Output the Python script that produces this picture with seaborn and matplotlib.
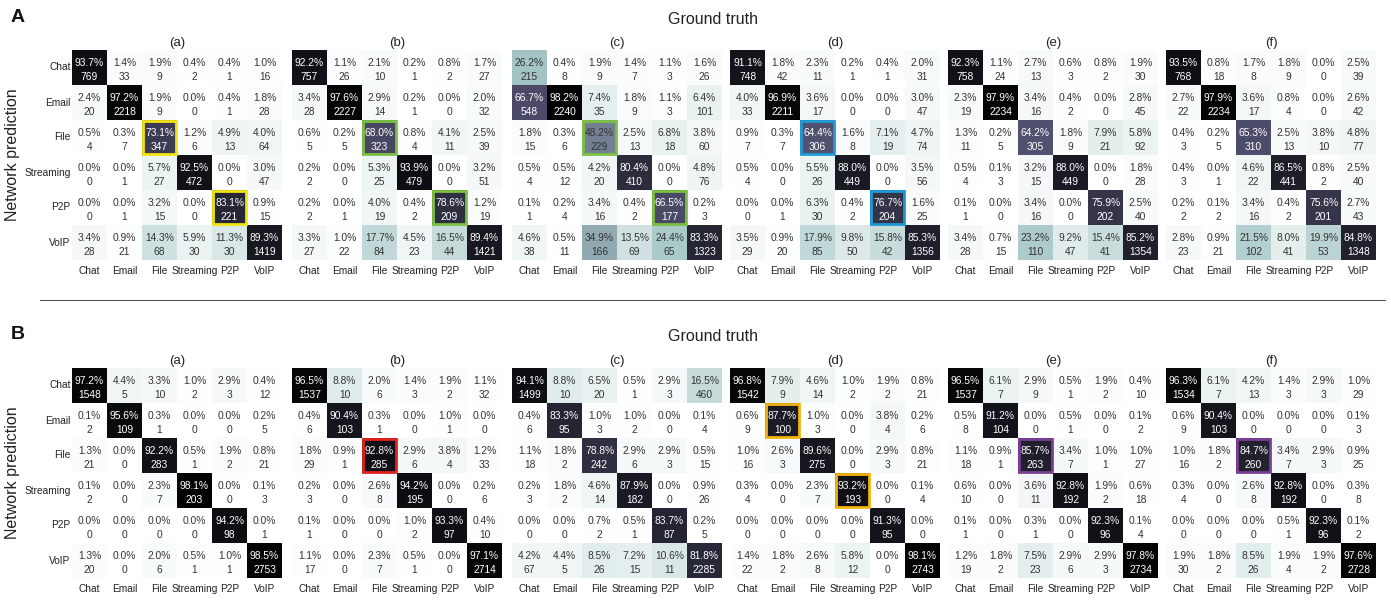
import numpy as np
import matplotlib
matplotlib.use("Agg")
import matplotlib.pyplot as plt
from matplotlib.patches import Rectangle
from matplotlib.lines import Line2D
import seaborn as sns

sns.set_style("white")
plt.rcParams["font.family"] = ["Liberation Sans", "DejaVu Sans"]

classes = ["Chat", "Email", "File", "Streaming", "P2P", "VoIP"]
panel_tags = ["(a)", "(b)", "(c)", "(d)", "(e)", "(f)"]

# ---- Section A: column-normalised percentages and raw counts (rows = prediction, cols = truth)
A_a_pct = [[93.7, 1.4, 1.9, 0.4, 0.4, 1.0],
           [2.4, 97.2, 1.9, 0.0, 0.4, 1.8],
           [0.5, 0.3, 73.1, 1.2, 4.9, 4.0],
           [0.0, 0.0, 5.7, 92.5, 0.0, 3.0],
           [0.0, 0.0, 3.2, 0.0, 83.1, 0.9],
           [3.4, 0.9, 14.3, 5.9, 11.3, 89.3]]
A_a_cnt = [[769, 33, 9, 2, 1, 16],
           [20, 2218, 9, 0, 1, 28],
           [4, 7, 347, 6, 13, 64],
           [0, 1, 27, 472, 0, 47],
           [0, 1, 15, 0, 221, 15],
           [28, 21, 68, 30, 30, 1419]]

A_b_pct = [[92.2, 1.1, 2.1, 0.2, 0.8, 1.7],
           [3.4, 97.6, 2.9, 0.2, 0.0, 2.0],
           [0.6, 0.2, 68.0, 0.8, 4.1, 2.5],
           [0.2, 0.0, 5.3, 93.9, 0.0, 3.2],
           [0.2, 0.0, 4.0, 0.4, 78.6, 1.2],
           [3.3, 1.0, 17.7, 4.5, 16.5, 89.4]]
A_b_cnt = [[757, 26, 10, 1, 2, 27],
           [28, 2227, 14, 1, 0, 32],
           [5, 5, 323, 4, 11, 39],
           [2, 0, 25, 479, 0, 51],
           [2, 1, 19, 2, 209, 19],
           [27, 22, 84, 23, 44, 1421]]

A_c_pct = [[26.2, 0.4, 1.9, 1.4, 1.1, 1.6],
           [66.7, 98.2, 7.4, 1.8, 1.1, 6.4],
           [1.8, 0.3, 48.2, 2.5, 6.8, 3.8],
           [0.5, 0.5, 4.2, 80.4, 0.0, 4.8],
           [0.1, 0.2, 3.4, 0.4, 66.5, 0.2],
           [4.6, 0.5, 34.9, 13.5, 24.4, 83.3]]
A_c_cnt = [[215, 8, 9, 7, 3, 26],
           [548, 2240, 35, 9, 3, 101],
           [15, 6, 229, 13, 18, 60],
           [4, 12, 20, 410, 0, 76],
           [1, 4, 16, 2, 177, 3],
           [38, 11, 166, 69, 65, 1323]]

A_d_pct = [[91.1, 1.8, 2.3, 0.2, 0.4, 2.0],
           [4.0, 96.9, 3.6, 0.0, 0.0, 3.0],
           [0.9, 0.3, 64.4, 1.6, 7.1, 4.7],
           [0.5, 0.0, 5.5, 88.0, 0.0, 3.5],
           [0.0, 0.0, 6.3, 0.4, 76.7, 1.6],
           [3.5, 0.9, 17.9, 9.8, 15.8, 85.3]]
A_d_cnt = [[748, 42, 11, 1, 1, 31],
           [33, 2211, 17, 0, 0, 47],
           [7, 7, 306, 8, 19, 74],
           [4, 0, 26, 449, 0, 56],
           [0, 1, 30, 2, 204, 25],
           [29, 20, 85, 50, 42, 1356]]

A_e_pct = [[92.3, 1.1, 2.7, 0.6, 0.8, 1.9],
           [2.3, 97.9, 3.4, 0.4, 0.0, 2.8],
           [1.3, 0.2, 64.2, 1.8, 7.9, 5.8],
           [0.5, 0.1, 3.2, 88.0, 0.0, 1.8],
           [0.1, 0.0, 3.4, 0.0, 75.9, 2.5],
           [3.4, 0.7, 23.2, 9.2, 15.4, 85.2]]
A_e_cnt = [[758, 24, 13, 3, 2, 30],
           [19, 2234, 16, 2, 0, 45],
           [11, 5, 305, 9, 21, 92],
           [4, 3, 15, 449, 0, 28],
           [1, 0, 16, 0, 202, 40],
           [28, 15, 110, 47, 41, 1354]]

A_f_pct = [[93.5, 0.8, 1.7, 1.8, 0.0, 2.5],
           [2.7, 97.9, 3.6, 0.8, 0.0, 2.6],
           [0.4, 0.2, 65.3, 2.5, 3.8, 4.8],
           [0.4, 0.0, 4.6, 86.5, 0.8, 2.5],
           [0.2, 0.1, 3.4, 0.4, 75.6, 2.7],
           [2.8, 0.9, 21.5, 8.0, 19.9, 84.8]]
A_f_cnt = [[768, 18, 8, 9, 0, 39],
           [22, 2234, 17, 4, 0, 42],
           [3, 5, 310, 13, 10, 77],
           [3, 1, 22, 441, 2, 40],
           [2, 2, 16, 2, 201, 43],
           [23, 21, 102, 41, 53, 1348]]

# ---- Section B
B_a_pct = [[97.2, 4.4, 3.3, 1.0, 2.9, 0.4],
           [0.1, 95.6, 0.3, 0.0, 0.0, 0.2],
           [1.3, 0.0, 92.2, 0.5, 1.9, 0.8],
           [0.1, 0.0, 2.3, 98.1, 0.0, 0.1],
           [0.0, 0.0, 0.0, 0.0, 94.2, 0.0],
           [1.3, 0.0, 2.0, 0.5, 1.0, 98.5]]
B_a_cnt = [[1548, 5, 10, 2, 3, 12],
           [2, 109, 1, 0, 0, 5],
           [21, 0, 283, 1, 2, 21],
           [2, 0, 7, 203, 0, 3],
           [0, 0, 0, 0, 98, 1],
           [20, 0, 6, 1, 1, 2753]]

B_b_pct = [[96.5, 8.8, 2.0, 1.4, 1.9, 1.1],
           [0.4, 90.4, 0.3, 0.0, 1.0, 0.0],
           [1.8, 0.9, 92.8, 2.9, 3.8, 1.2],
           [0.2, 0.0, 2.6, 94.2, 0.0, 0.2],
           [0.1, 0.0, 0.0, 1.0, 93.3, 0.4],
           [1.1, 0.0, 2.3, 0.5, 0.0, 97.1]]
B_b_cnt = [[1537, 10, 6, 3, 2, 32],
           [6, 103, 1, 0, 1, 0],
           [29, 1, 285, 6, 4, 33],
           [3, 0, 8, 195, 0, 6],
           [1, 0, 0, 2, 97, 10],
           [17, 0, 7, 1, 0, 2714]]

B_c_pct = [[94.1, 8.8, 6.5, 0.5, 2.9, 16.5],
           [0.4, 83.3, 1.0, 1.0, 0.0, 0.1],
           [1.1, 1.8, 78.8, 2.9, 2.9, 0.5],
           [0.2, 1.8, 4.6, 87.9, 0.0, 0.9],
           [0.0, 0.0, 0.7, 0.5, 83.7, 0.2],
           [4.2, 4.4, 8.5, 7.2, 10.6, 81.8]]
B_c_cnt = [[1499, 10, 20, 1, 3, 460],
           [6, 95, 3, 2, 0, 4],
           [18, 2, 242, 6, 3, 15],
           [3, 2, 14, 182, 0, 26],
           [0, 0, 2, 1, 87, 5],
           [67, 5, 26, 15, 11, 2285]]

B_d_pct = [[96.8, 7.9, 4.6, 1.0, 1.9, 0.8],
           [0.6, 87.7, 1.0, 0.0, 3.8, 0.2],
           [1.0, 2.6, 89.6, 0.0, 2.9, 0.8],
           [0.3, 0.0, 2.3, 93.2, 0.0, 0.1],
           [0.0, 0.0, 0.0, 0.0, 91.3, 0.0],
           [1.4, 1.8, 2.6, 5.8, 0.0, 98.1]]
B_d_cnt = [[1542, 9, 14, 2, 2, 21],
           [9, 100, 3, 0, 4, 6],
           [16, 3, 275, 0, 3, 21],
           [4, 0, 7, 193, 0, 4],
           [0, 0, 0, 0, 95, 0],
           [22, 2, 8, 12, 0, 2743]]

B_e_pct = [[96.5, 6.1, 2.9, 0.5, 1.9, 0.4],
           [0.5, 91.2, 0.0, 0.5, 0.0, 0.1],
           [1.1, 0.9, 85.7, 3.4, 1.0, 1.0],
           [0.6, 0.0, 3.6, 92.8, 1.9, 0.6],
           [0.1, 0.0, 0.3, 0.0, 92.3, 0.1],
           [1.2, 1.8, 7.5, 2.9, 2.9, 97.8]]
B_e_cnt = [[1537, 7, 9, 1, 2, 10],
           [8, 104, 0, 1, 0, 2],
           [18, 1, 263, 7, 1, 27],
           [10, 0, 11, 192, 2, 18],
           [1, 0, 1, 0, 96, 4],
           [19, 2, 23, 6, 3, 2734]]

B_f_pct = [[96.3, 6.1, 4.2, 1.4, 2.9, 1.0],
           [0.6, 90.4, 0.0, 0.0, 0.0, 0.1],
           [1.0, 1.8, 84.7, 3.4, 2.9, 0.9],
           [0.3, 0.0, 2.6, 92.8, 0.0, 0.3],
           [0.0, 0.0, 0.0, 0.5, 92.3, 0.1],
           [1.9, 1.8, 8.5, 1.9, 1.9, 97.6]]
B_f_cnt = [[1534, 7, 13, 3, 3, 29],
           [9, 103, 0, 0, 0, 3],
           [16, 2, 260, 7, 3, 25],
           [4, 0, 8, 192, 0, 8],
           [0, 0, 0, 1, 96, 2],
           [30, 2, 26, 4, 2, 2728]]

# Highlighted diagonal cells: (section, panel index) -> (colour, class names)
highlights = {
    ("A", 0): ("#f2e411", ["File", "P2P"]),
    ("A", 1): ("#7dc143", ["File", "P2P"]),
    ("A", 2): ("#7dc143", ["File", "P2P"]),
    ("A", 3): ("#1d9bd7", ["File", "P2P"]),
    ("B", 1): ("#e3211f", ["File"]),
    ("B", 3): ("#f5b30f", ["Email", "Streaming"]),
    ("B", 4): ("#7b3f95", ["File"]),
    ("B", 5): ("#7b3f95", ["File"]),
}

sections = {
    "A": [(A_a_pct, A_a_cnt), (A_b_pct, A_b_cnt), (A_c_pct, A_c_cnt),
          (A_d_pct, A_d_cnt), (A_e_pct, A_e_cnt), (A_f_pct, A_f_cnt)],
    "B": [(B_a_pct, B_a_cnt), (B_b_pct, B_b_cnt), (B_c_pct, B_c_cnt),
          (B_d_pct, B_d_cnt), (B_e_pct, B_e_cnt), (B_f_pct, B_f_cnt)],
}

W, H = 1391, 601
fig = plt.figure(figsize=(W / 100, H / 100), dpi=100)

lefts = [72, 292, 512, 730, 948, 1166]
tops = {"A": 50, "B": 368}
size = 210


def frac_box(x, y, w, h):
    return [x / W, 1 - (y + h) / H, w / W, h / H]


for sec, panels in sections.items():
    top = tops[sec]
    for k, (pct, cnt) in enumerate(panels):
        ax = fig.add_axes(frac_box(lefts[k], top, size, size))
        pct_arr = np.array(pct, dtype=float)
        cnt_arr = np.array(cnt)
        sns.heatmap(pct_arr, ax=ax, cmap="bone_r", vmin=0, vmax=100,
                    cbar=False, square=False,
                    xticklabels=classes,
                    yticklabels=classes if k == 0 else False)
        for i in range(6):
            for j in range(6):
                v = pct_arr[i, j]
                col = "white" if v > 55 else "#333333"
                ax.text(j + 0.5, i + 0.36, f"{v:.1f}%", ha="center", va="center",
                        fontsize=7.4, color=col)
                ax.text(j + 0.5, i + 0.76, f"{cnt_arr[i, j]}", ha="center", va="center",
                        fontsize=7.4, color=col)
        ax.tick_params(axis="both", length=0, labelsize=7.3, colors="#222222")
        ax.tick_params(axis="x", pad=4, rotation=0)
        ax.tick_params(axis="y", pad=1, rotation=0)
        ax.set_title(panel_tags[k], fontsize=9.5, pad=3, color="#222222")
        if (sec, k) in highlights:
            colr, names = highlights[(sec, k)]
            for nm in names:
                d = classes.index(nm)
                ax.add_patch(Rectangle((d + 0.02, d + 0.02), 0.96, 0.96, fill=False,
                                       edgecolor=colr, lw=2.0, clip_on=False, zorder=5))

    # section letter, shared axis titles
    fig.text(11 / W, 1 - (top - 33) / H, sec, fontsize=14, fontweight="bold",
             ha="left", va="center", color="#111111")
    fig.text(713 / W, 1 - (top - 31) / H, "Ground truth", fontsize=11.5,
             ha="center", va="center", color="#222222")
    fig.text(13 / W, 1 - (top + 105) / H, "Network prediction", fontsize=11.5,
             rotation=90, ha="center", va="center", color="#222222")

fig.add_artist(Line2D([40 / W, 1385 / W], [1 - 300 / H, 1 - 300 / H],
                      color="#555555", lw=0.8))

fig.savefig("out.png", dpi=100)
